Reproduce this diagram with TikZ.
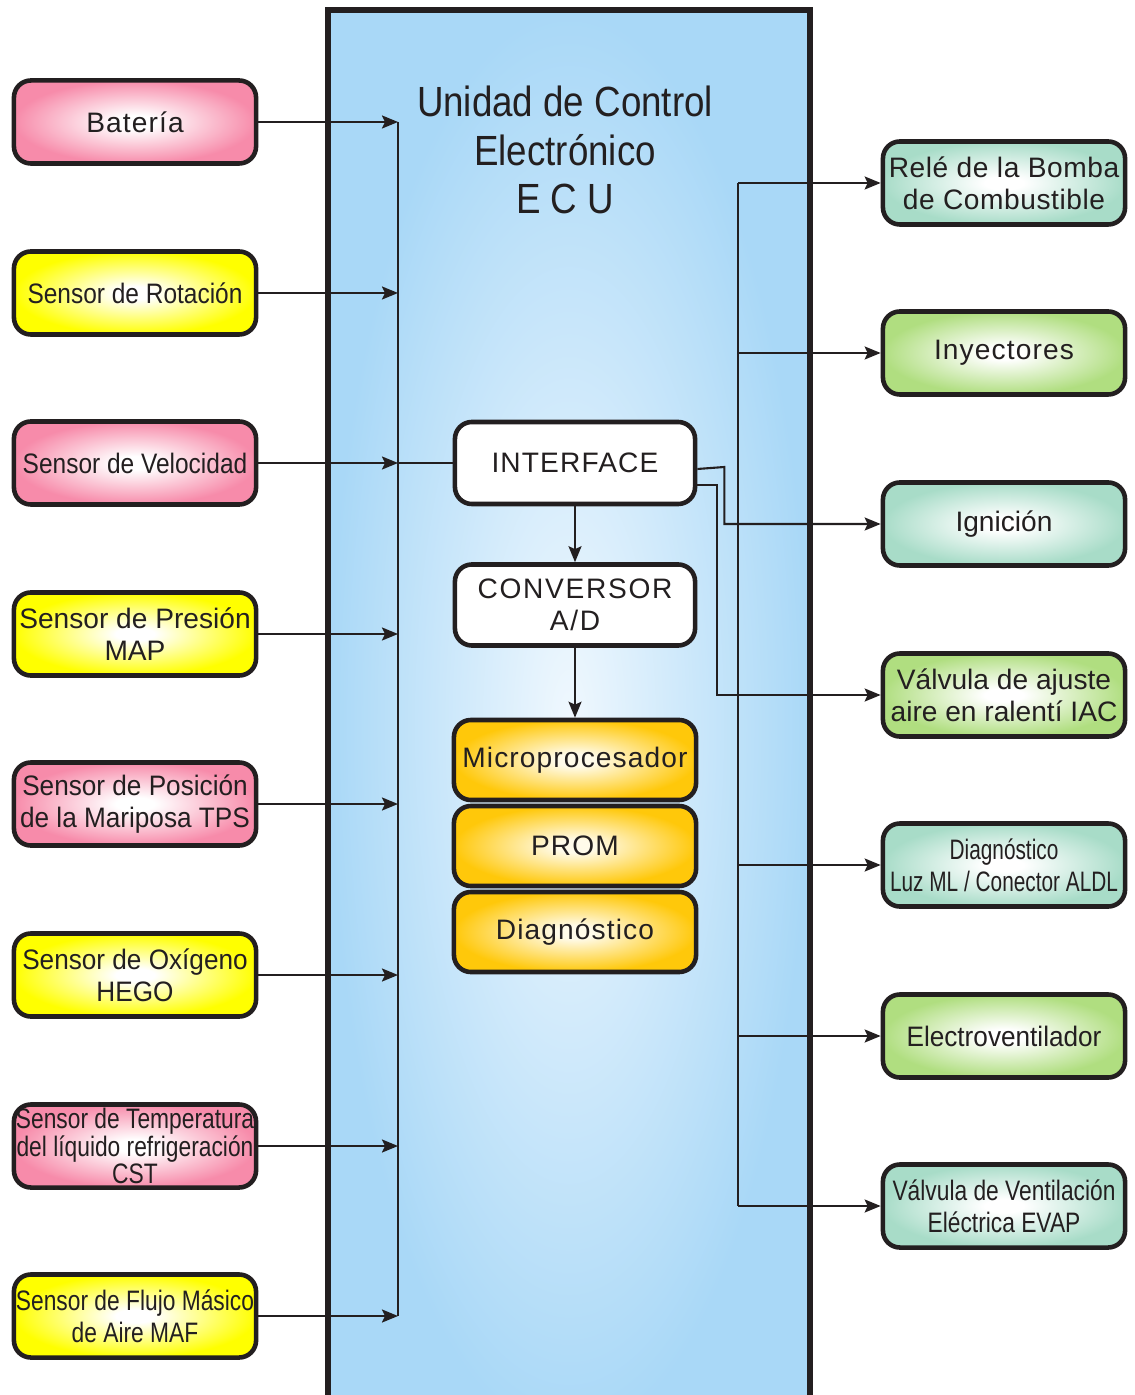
\documentclass[tikz,border=0pt]{standalone}
\usepackage{fontspec}
\setmainfont{Liberation Sans}
% font variants: plain, condensed and letter-spaced
\newfontfamily\fnN{Liberation Sans}
\newfontfamily\fnS[FakeStretch=0.93]{Liberation Sans}
\newfontfamily\fnM[FakeStretch=0.87]{Liberation Sans}
\newfontfamily\fnC[FakeStretch=0.81]{Liberation Sans}
\newfontfamily\fnX[FakeStretch=0.74]{Liberation Sans}
\newfontfamily\fnT[FakeStretch=0.87]{Liberation Sans}
\newfontfamily\fnWa[LetterSpace=2]{Liberation Sans}
\newfontfamily\fnW[LetterSpace=4]{Liberation Sans}
\newfontfamily\fnWW[LetterSpace=6]{Liberation Sans}
\newcommand\lbl{\fontsize{8}{9.1}\selectfont}
\usetikzlibrary{arrows.meta,calc}

\definecolor{ink}{HTML}{231F20}
\definecolor{pinkedge}{HTML}{F78BAA}
\definecolor{yellowedge}{HTML}{FFFF00}
\definecolor{tealedge}{HTML}{A8DCC8}
\definecolor{greenedge}{HTML}{B0DE80}
\definecolor{goldedge}{HTML}{FFC80A}
\definecolor{goldcore}{HTML}{FFFBEA}
\definecolor{ecuedge}{HTML}{A9D8F7}
\definecolor{ecucore}{HTML}{F0F8FE}

% soft radial glows with a white core
\pgfdeclareradialshading{glowpink}{\pgfpointorigin}{color(0bp)=(white); color(4bp)=(white); color(25bp)=(pinkedge); color(50bp)=(pinkedge)}
\pgfdeclareradialshading{glowyellow}{\pgfpointorigin}{color(0bp)=(white); color(4bp)=(white); color(25bp)=(yellowedge); color(50bp)=(yellowedge)}
\pgfdeclareradialshading{glowteal}{\pgfpointorigin}{color(0bp)=(white); color(4bp)=(white); color(25bp)=(tealedge); color(50bp)=(tealedge)}
\pgfdeclareradialshading{glowgreen}{\pgfpointorigin}{color(0bp)=(white); color(4bp)=(white); color(25bp)=(greenedge); color(50bp)=(greenedge)}
\pgfdeclareradialshading{glowgold}{\pgfpointorigin}{color(0bp)=(goldcore); color(4bp)=(goldcore); color(25bp)=(goldedge); color(50bp)=(goldedge)}

\begin{document}
\begin{tikzpicture}[x=0.01cm,y=-0.01cm,
  box/.style={draw=ink, line width=1.3pt, rounded corners=0.17cm,
    minimum width=2.42cm, minimum height=0.83cm, inner sep=0pt,
    align=center, text=ink, shade},
  pinkbox/.style={box, shading=glowpink},
  yellowbox/.style={box, shading=glowyellow},
  tealbox/.style={box, shading=glowteal},
  greenbox/.style={box, shading=glowgreen},
  goldbox/.style={box, shading=glowgold, minimum height=0.80cm},
  whitebox/.style={draw=ink, line width=1.3pt, rounded corners=0.17cm,
    minimum width=2.40cm, minimum height=0.82cm, inner sep=0pt,
    align=center, text=ink, fill=white},
  wire/.style={draw=ink, line width=0.6pt},
  arr/.style={wire, -{Stealth[length=0.16cm,width=0.13cm,inset=0.03cm]}},
]
\useasboundingbox (0,0) rectangle (1134,1395);

% ECU housing, open at the bottom edge
\begin{scope}
  \clip (0,0) rectangle (1134,1395);
  \shade[inner color=ecucore, outer color=ecuedge]
    (328,10) rectangle (810,1440);
  \draw[ink, line width=1.45pt] (328,1440) -- (328,10) -- (810,10) -- (810,1440);
\end{scope}

\node[text=ink, align=center, font=\fnT\fontsize{12}{13.7}\selectfont]
  (ecutitle) at (565,150) {Unidad de Control\\Electrónico\\E C U};

% bus lines
\coordinate (inbus) at (398,0);
\coordinate (outbus) at (738,0);

% sensors (inputs)
\node[pinkbox, font=\fnW\lbl]   (bat)  at (135,122)  {Batería};
\node[yellowbox, font=\fnM\lbl] (rot)  at (135,293)  {Sensor de Rotación};
\node[pinkbox, font=\fnM\lbl]   (vel)  at (135,463)  {Sensor de Velocidad};
\node[yellowbox, font=\fnN\lbl] (map)  at (135,634)  {Sensor de Presión\\MAP};
\node[pinkbox, font=\fnS\lbl]   (tps)  at (135,804)  {Sensor de Posición\\de la Mariposa TPS};
\node[yellowbox, font=\fnS\lbl] (hego) at (135,975)  {Sensor de Oxígeno\\HEGO};
\node[pinkbox, font=\fnC\fontsize{8}{7.7}\selectfont]
                                (cst)  at (135,1146) {Sensor de Temperatura\\del líquido refrigeración\\CST};
\node[yellowbox, font=\fnC\lbl] (maf)  at (135,1316) {Sensor de Flujo Másico\\de Aire MAF};

% actuators (outputs)
\node[tealbox, font=\fnWa\lbl]  (rele) at (1004,183)  {Relé de la Bomba\\de Combustible};
\node[greenbox, font=\fnW\lbl]  (iny)  at (1004,353)  {Inyectores};
\node[tealbox, font=\fnN\lbl]   (ign)  at (1004,524)  {Ignición};
\node[greenbox, font=\fnN\lbl]  (iac)  at (1004,695)  {Válvula de ajuste\\aire en ralentí IAC};
\node[tealbox, font=\fnX\lbl]   (aldl) at (1004,865)  {Diagnóstico\\Luz ML / Conector ALDL};
\node[greenbox, font=\fnS\lbl]  (fan)  at (1004,1036) {Electroventilador};
\node[tealbox, font=\fnC\lbl]   (evap) at (1004,1206) {Válvula de Ventilación\\Eléctrica EVAP};

% internal blocks
\node[whitebox, font=\fnW\lbl]  (iface) at (575,463) {INTERFACE};
\node[whitebox, font=\fnWW\lbl, minimum height=0.81cm] (conv) at (575,605) {CONVERSOR\\A/D};
\node[goldbox, font=\fnW\lbl]   (micro) at (575,760) {Microprocesador};
\node[goldbox, font=\fnW\lbl]   (prom)  at (575,846) {PROM};
\node[goldbox, font=\fnW\lbl]   (diag)  at (575,932) {Diagnóstico};

% input connectors
\foreach \s in {bat,rot,vel,map,tps,hego,cst,maf}
  \draw[arr] (\s.east) -- (\s.east -| inbus);
\draw[wire] (bat.east -| inbus) -- (maf.east -| inbus);
\draw[wire] (vel.east -| inbus) -- (iface.west);

% output connectors
\draw[wire] (rele.west -| outbus) -- (evap.west -| outbus);
\foreach \a in {rele,iny,aldl,fan,evap}
  \draw[arr] (\a.west -| outbus) -- (\a.west);
\draw[arr] ($(iface.east)+(0,6)$) -- ($(iface.east)+(27,4)$) |- (ign.west);
\draw[arr] ($(iface.east)+(0,22)$) -- ($(iface.east)+(20,22)$) |- (iac.west);

% internal flow
\draw[arr] (iface.south) -- (conv.north);
\draw[arr] (conv.south) -- (micro.north);
\end{tikzpicture}
\end{document}
